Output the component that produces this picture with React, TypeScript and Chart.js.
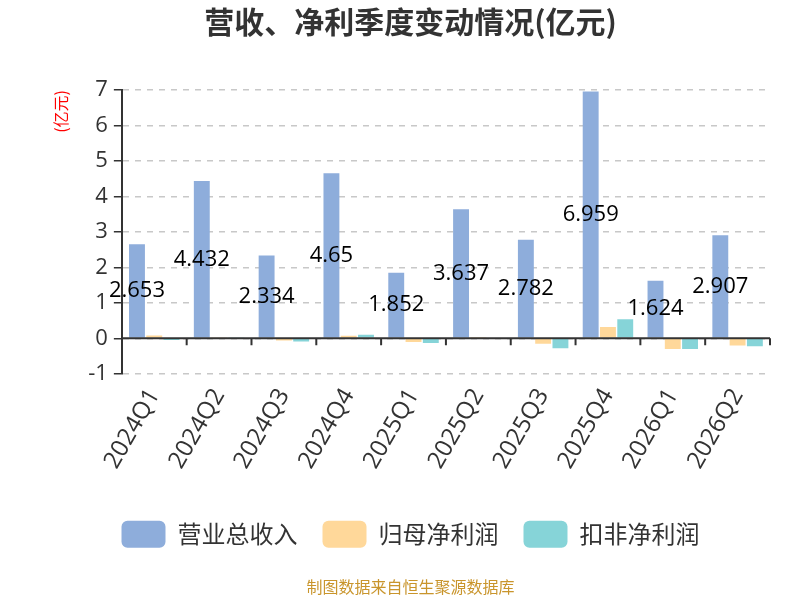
import React, { useRef, useEffect } from 'react'
import { Chart, registerables } from 'chart.js'

Chart.register(...registerables)

const categories = ['2024Q1', '2024Q2', '2024Q3', '2024Q4', '2025Q1', '2025Q2', '2025Q3', '2025Q4', '2026Q1', '2026Q2']
const revenue = [2.653, 4.432, 2.334, 4.65, 1.852, 3.637, 2.782, 6.959, 1.624, 2.907]
const netProfit = [0.08, 0.03, -0.06, 0.07, -0.1, 0.01, -0.15, 0.32, -0.3, -0.2]
const deductedProfit = [-0.05, 0.02, -0.09, 0.1, -0.13, -0.02, -0.28, 0.54, -0.3, -0.22]
const seriesNames = ['营业总收入', '归母净利润', '扣非净利润']
const colors = ['#8eaddb', '#ffd89a', '#86d4d8']

const FONT = '"Open Sans", "Noto Sans CJK SC", sans-serif'
const CJK = '"Noto Sans CJK SC", sans-serif'

// labels in the middle of the revenue bars, plus the zero axis line with its ticks
const customDraw = {
  id: 'customDraw',
  afterDatasetsDraw(chart: any) {
    const { ctx, chartArea, scales } = chart
    const y0 = scales.y.getPixelForValue(0)
    ctx.save()
    ctx.strokeStyle = '#333'
    ctx.lineWidth = 2
    ctx.beginPath()
    ctx.moveTo(chartArea.left, y0)
    ctx.lineTo(chartArea.right, y0)
    const step = (chartArea.right - chartArea.left) / categories.length
    for (let i = 1; i <= categories.length; i++) {
      const x = chartArea.left + step * i
      ctx.moveTo(x, y0)
      ctx.lineTo(x, y0 + 7)
    }
    ctx.stroke()

    const meta = chart.getDatasetMeta(0)
    ctx.fillStyle = '#000'
    ctx.font = '22px ' + FONT
    ctx.textAlign = 'center'
    ctx.textBaseline = 'middle'
    meta.data.forEach((bar: any, i: number) => {
      const p = bar.getCenterPoint()
      ctx.fillText(String(revenue[i]), p.x, p.y)
    })
    ctx.restore()
  },
}

export default function App() {
  const chartRef = useRef<HTMLCanvasElement>(null)

  useEffect(() => {
    if (!chartRef.current) return
    const chart = new Chart(chartRef.current, {
      type: 'bar',
      data: {
        labels: categories,
        datasets: [
          { label: seriesNames[0], data: revenue, backgroundColor: colors[0] },
          { label: seriesNames[1], data: netProfit, backgroundColor: colors[1] },
          { label: seriesNames[2], data: deductedProfit, backgroundColor: colors[2] },
        ],
      },
      options: {
        responsive: false,
        animation: false,
        layout: { padding: { left: 51, right: 30, top: 0, bottom: 0 } },
        datasets: { bar: { categoryPercentage: 0.8, barPercentage: 0.92 } },
        plugins: {
          title: {
            display: true,
            text: '营收、净利季度变动情况(亿元)',
            color: '#333',
            font: { family: CJK, size: 30, weight: 'bold' },
            padding: { top: 4, bottom: 50 },
          },
          legend: {
            position: 'bottom',
            labels: {
              color: '#333',
              font: { family: CJK, size: 24 },
              boxWidth: 44,
              boxHeight: 27,
              useBorderRadius: true,
              borderRadius: 6,
              padding: 25,
            },
          },
          subtitle: {
            display: true,
            position: 'bottom',
            text: '制图数据来自恒生聚源数据库',
            color: '#c9952c',
            font: { family: CJK, size: 16 },
            padding: { top: 20, bottom: 3 },
          },
          tooltip: { enabled: false },
        },
        scales: {
          x: {
            grid: { display: false },
            border: { display: false },
            ticks: {
              color: '#333',
              font: { family: FONT, size: 24 },
              maxRotation: 60,
              minRotation: 60,
              padding: 2,
            },
            afterFit(scale: any) {
              scale.height += 20
            },
          },
          y: {
            min: -1,
            max: 7,
            ticks: { stepSize: 1, color: '#333', font: { family: FONT, size: 22 }, padding: 6 },
            grid: {
              color: '#c8c8c8',
              lineWidth: 1.5,
              drawTicks: true,
              tickColor: '#333',
              tickLength: 8,
            },
            border: { display: true, color: '#333', width: 2, dash: [6, 6] },
            title: {
              display: true,
              text: '(亿元)',
              color: 'red',
              align: 'end',
              font: { family: CJK, size: 16 },
              padding: { top: 0, bottom: 12 },
            },
          },
        },
      },
      plugins: [customDraw],
    })
    return () => chart.destroy()
  }, [])

  return (
    <div style={{ position: 'fixed', left: 0, top: 0, width: 800, height: 600, background: '#fff' }}>
      <canvas ref={chartRef} width={800} height={600}></canvas>
    </div>
  )
}
